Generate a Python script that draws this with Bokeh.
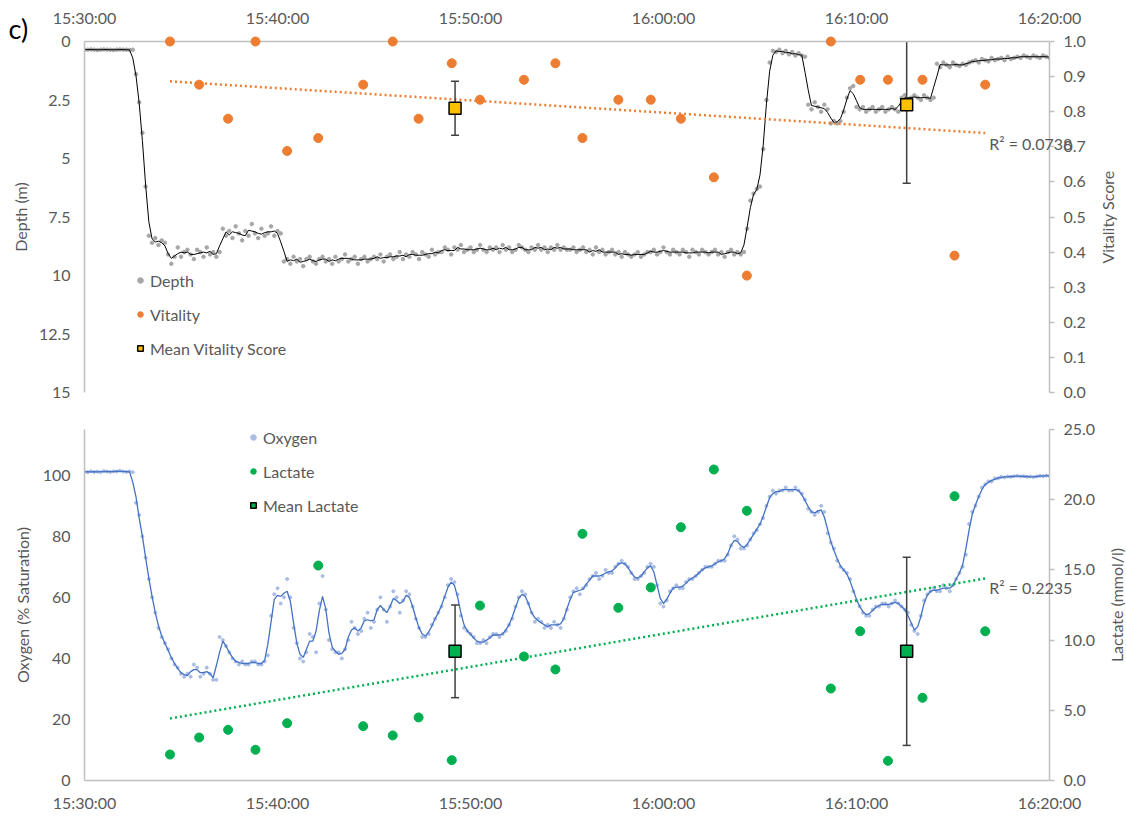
import numpy as np
import pandas as pd
from bokeh.core.properties import value
from bokeh.embed import file_html
from bokeh.layouts import column
from bokeh.models import (FixedTicker, Legend, LegendItem, LinearAxis,
                          NumeralTickFormatter, Range1d)
from bokeh.plotting import figure
from bokeh.resources import INLINE

# ---- time axis: minutes after 15:30:00 ----
time_ticks = [0, 10, 20, 30, 40, 50]
time_labels = ["15:30:00", "15:40:00", "15:50:00", "16:00:00", "16:10:00", "16:20:00"]
logger_step_s = 10  # data logger sampling interval

# logger depth (m), one reading every 10 s from 15:30:00
depth_m = [
    0.35, 0.35, 0.34, 0.35, 0.36, 0.35, 0.34, 0.35, 0.35, 0.36, 0.35, 0.34, 0.35, 0.35, 0.36, 0.35,
    1.4, 2.6, 3.9, 6.2, 8.3,
    8.6, 8.4, 8.7, 8.5, 8.6,
    9.1, 9.5, 9.2,
    8.8, 9.2, 9.0, 8.9, 9.1, 9.3, 8.9, 9.0, 9.2, 8.8, 9.1, 9.0, 9.2, 9.0,
    8.0, 8.3, 8.1, 8.4, 7.9, 8.2, 8.5, 8.1, 8.3, 7.8, 8.2, 8.4, 8.0, 8.3, 8.2, 7.9, 8.3, 8.1,
    8.2,
    9.4, 9.3, 9.5, 9.2, 9.4, 9.3, 9.6, 9.3, 9.2, 9.4, 9.5, 9.3, 9.2, 9.4, 9.3, 9.5, 9.2, 9.4,
    9.3, 9.1, 9.4, 9.3, 9.2, 9.5, 9.3, 9.2, 9.4, 9.3, 9.2,
    9.3, 9.1, 9.4, 9.2, 9.1, 9.3, 9.2, 9.0, 9.3, 9.1, 9.2, 9.0, 9.1, 9.3, 9.0, 9.1, 9.2, 8.9,
    9.1, 9.0,
    9.0, 8.8, 8.9, 9.1, 8.8, 8.9, 8.7, 9.0, 8.9, 8.8, 9.0, 8.9, 8.7, 8.9, 9.0, 8.8, 8.9, 8.8,
    9.0, 8.7, 8.9, 8.8, 9.0, 8.9, 8.7, 8.8, 8.9, 9.0, 8.8, 8.9, 8.7, 8.9, 8.8, 9.0, 8.8, 8.9,
    8.7, 8.9, 8.8, 8.9,
    8.9, 8.8, 9.0, 8.9, 8.8, 9.0, 8.9, 9.1, 8.8, 9.0, 8.9, 9.1, 9.0, 8.9, 9.1, 9.0, 9.2, 9.0,
    9.1, 9.2, 9.1, 9.0, 9.2, 9.1, 9.0,
    9.0, 8.9, 9.1, 9.0, 8.8, 9.0, 9.1, 8.9, 9.0, 9.1, 8.9, 9.0, 9.2, 8.9, 9.0, 9.1, 8.9, 9.0,
    9.1, 9.0, 8.9, 9.1, 9.0, 9.2, 9.0, 8.9, 9.1, 9.0, 9.1,
    9.0, 8.0, 6.8, 6.5, 6.3, 6.2, 4.6, 2.5, 0.9,
    0.4, 0.45, 0.35, 0.5, 0.4, 0.55, 0.45, 0.6, 0.5, 0.6, 0.65,
    2.7, 2.9, 2.6, 2.8, 3.0, 2.7, 2.9,
    3.5, 3.4, 3.5, 3.4,
    3.0, 2.4, 2.0, 1.9, 2.8,
    2.9, 2.8, 3.0, 2.9, 2.8, 3.0, 2.9, 2.8, 3.0, 2.9, 2.8, 2.9, 3.0,
    2.4, 2.3, 2.5, 2.4, 2.3, 2.4, 2.5, 2.3, 2.4, 2.5, 2.4,
    0.95, 1.1, 0.9, 1.0, 1.1, 0.9, 1.0, 1.05, 0.95, 1.0, 0.9,
    0.85, 0.8, 0.9, 0.75, 0.8, 0.85, 0.7, 0.8, 0.75, 0.7, 0.8, 0.65, 0.75, 0.7, 0.65,
    0.7, 0.6, 0.65, 0.7, 0.6, 0.65, 0.7, 0.6, 0.65, 0.7,
]

# logger oxygen (% saturation), same 10 s clock
oxygen_pct = [
    101.2, 101.0, 101.3, 101.1, 101.2, 101.0, 101.4, 101.2, 101.1, 101.3, 101.2, 101.5, 101.2, 101.1, 101.3, 101.0,
    91, 87, 80, 73, 66, 60, 55, 50, 47, 45, 43, 40, 38, 37, 35,
    34, 35, 34, 38, 37, 34, 35, 37, 35, 33, 33, 47, 46, 44, 42,
    40, 39, 38, 39, 38, 38, 39, 39, 38, 38, 39, 41, 54, 61, 63,
    58, 60, 66, 60, 50, 45, 40, 39, 42, 48, 47, 42, 58, 67, 56,
    46, 43, 42, 42, 40, 43, 46, 52, 50, 48, 49, 53, 55, 50, 52,
    56, 60, 56, 52, 57, 62, 60, 55, 59, 62, 61, 57, 53, 50, 47,
    47, 48, 51, 53, 55, 57, 60, 64, 66, 65, 61, 54, 50, 49, 48,
    47, 45, 45, 46, 45, 47, 48, 48, 47, 48, 49, 51, 53, 57, 60,
    62, 61, 58, 55, 52, 53, 52, 50, 51, 50, 52, 51, 50, 53, 56,
    60, 62, 63, 61, 63, 64, 66, 67, 68, 66, 67, 69, 68, 68, 70,
    71, 72, 71, 70, 68, 66, 66, 67, 68, 70, 71, 70, 64, 58, 57,
    59, 62, 63, 64, 63, 63, 65, 66, 66, 67, 68, 69, 70, 70, 70,
    71, 72, 72, 72, 74, 77, 80, 79, 76, 76, 77, 79, 81, 82, 84,
    86, 90, 93, 95, 94, 95, 95, 96, 95, 95, 96, 95, 94, 92, 89,
    88, 87, 88, 90, 88, 81, 78, 76, 72, 70, 69, 68, 66, 62, 59,
    57, 55, 54, 54, 56, 57, 57, 58, 58, 57, 58, 59, 58, 57, 56,
    55, 51, 49, 48, 54, 59, 61, 62, 63, 62, 62, 64, 63, 62, 64,
    66, 68, 70, 74, 84, 88, 90, 93, 96, 97, 98, 98, 99, 99, 99.5,
    99.3, 99.6, 99.5, 99.7, 99.8, 99.6, 99.7, 99.5, 99.6, 99.4, 99.6, 99.8, 99.7, 99.9, 99.8,
]

# individual samples (minutes after 15:30)
sample_min = [4.43, 5.94, 7.44, 8.86, 10.50, 12.11, 14.44, 15.97, 17.31, 19.03,
              20.49, 22.77, 24.40, 25.80, 27.66, 29.34, 30.90, 32.61, 34.32,
              38.67, 40.19, 41.63, 43.42, 45.08, 46.67]
vitality = [1.0, 0.877, 0.78, 1.0, 0.688, 0.725, 0.877, 1.0, 0.78, 0.938,
            0.834, 0.891, 0.938, 0.725, 0.834, 0.834, 0.78, 0.613, 0.333,
            1.0, 0.891, 0.891, 0.891, 0.39, 0.877]
lactate = [1.85, 3.06, 3.61, 2.19, 4.08, 15.31, 3.87, 3.21, 4.49, 1.45,
           12.46, 8.83, 7.91, 17.57, 12.30, 13.75, 18.04, 22.15, 19.21,
           6.55, 10.63, 1.40, 5.89, 20.25, 10.63]

# group means with error bars
group_min = [19.2, 42.6]
vitality_mean = [0.81, 0.82]
vitality_err = [0.077, 0.224]
lactate_mean = [9.2, 9.2]
lactate_err = [3.3, 6.7]

r2_vitality = "R² = 0.0738"
r2_lactate = "R² = 0.2235"

depth_ticks = [0, 2.5, 5, 7.5, 10, 12.5, 15]
vitality_ticks = [0.0, 0.1, 0.2, 0.3, 0.4, 0.5, 0.6, 0.7, 0.8, 0.9, 1.0]
oxygen_ticks = [0, 20, 40, 60, 80, 100]
lactate_ticks = [0, 5, 10, 15, 20, 25]

FONT = "Lato"
TXT = "#595959"
AXIS = "#BFBFBF"
ORANGE = "#ED7D31"
GOLD = "#FFC000"
GREEN = "#00B050"
BAR = "#404040"


def base_fig(height, b_top, b_bottom, x_loc, y_range):
    p = figure(width=1126, height=height, x_range=Range1d(0, 50), y_range=y_range,
               x_axis_location=x_loc, output_backend="svg", toolbar_location=None,
               min_border_left=84, min_border_right=77,
               min_border_top=b_top, min_border_bottom=b_bottom)
    p.grid.visible = False
    p.outline_line_color = None
    p.background_fill_color = "white"
    p.border_fill_color = "white"
    return p


def style_axis(ax, tick_out=0, standoff=14, title_standoff=6):
    ax.axis_line_color = AXIS
    ax.axis_line_width = 1.5
    ax.major_tick_line_color = AXIS
    ax.major_tick_line_width = 1.5
    ax.major_tick_out = tick_out
    ax.major_tick_in = 0
    ax.minor_tick_line_color = None
    ax.major_label_standoff = standoff
    ax.major_label_text_font = FONT
    ax.major_label_text_font_size = "16px"
    ax.major_label_text_color = TXT
    ax.axis_label_text_font = FONT
    ax.axis_label_text_font_size = "16px"
    ax.axis_label_text_color = TXT
    ax.axis_label_text_font_style = "normal"
    ax.axis_label_standoff = title_standoff


def time_axis(ax, standoff):
    ax.ticker = FixedTicker(ticks=time_ticks)
    ax.major_label_overrides = dict(zip(time_ticks, time_labels))
    style_axis(ax, standoff=standoff)


def legend_for(p, items, x, y):
    leg = Legend(items=items, location=(x, y), background_fill_alpha=0,
                 border_line_color=None, padding=0, margin=0, spacing=14,
                 glyph_width=14, glyph_height=20, label_height=20, label_standoff=3,
                 label_text_font=FONT, label_text_font_size="16px", label_text_color=TXT)
    p.add_layout(leg)


def free_text(p, x, y, text, size="16px", color=TXT, **kw):
    # text glyph on the overlay level, so it may sit outside the plot frame
    p.text(x=[x], y=[y], text=[text], level="overlay", text_font=value(FONT),
           text_font_size=size, text_color=color, **kw)


t_log = np.arange(len(depth_m)) * logger_step_s / 60.0
gm = np.array(group_min)
t_fit = np.array([min(sample_min), max(sample_min)])

# ---------------- depth / vitality ----------------
top = base_fig(410, 41, 18, "above", Range1d(15, 0))
top.extra_y_ranges = {"vit": Range1d(0, 1)}

depth_avg = pd.Series(depth_m).rolling(3, center=True, min_periods=1).mean()
r_depth = top.scatter(t_log, depth_m, size=3.5, color="#A6A6A6")
top.line(t_log, depth_avg, color="black", line_width=1)

vk, vb = np.polyfit(sample_min, vitality, 1)
top.line(t_fit, vk * t_fit + vb, y_range_name="vit", color=ORANGE,
         line_width=2.5, line_dash="2 3")

vm = np.array(vitality_mean)
ve = np.array(vitality_err)
top.segment(gm, vm - ve, gm, vm + ve, y_range_name="vit", color=BAR, line_width=1.5)
top.scatter(np.r_[gm, gm], np.r_[vm - ve, vm + ve], marker="dash", size=8,
            y_range_name="vit", line_color=BAR, line_width=1.5)

r_vit = top.scatter(sample_min, vitality, y_range_name="vit", size=9,
                    color=ORANGE, level="overlay")
r_vmean = top.scatter(gm, vm, y_range_name="vit", marker="square", size=12,
                      fill_color=GOLD, line_color="black", line_width=1.5)

time_axis(top.xaxis[0], 15)
ly = top.yaxis[0]
ly.ticker = FixedTicker(ticks=depth_ticks)
ly.formatter = NumeralTickFormatter(format="0.[0]")
ly.axis_label = "Depth (m)"
style_axis(ly, standoff=14, title_standoff=6)

ry = LinearAxis(y_range_name="vit", ticker=FixedTicker(ticks=vitality_ticks),
                formatter=NumeralTickFormatter(format="0.0"))
style_axis(ry, tick_out=5, standoff=9)
top.add_layout(ry, "right")
# right-hand axis title, reading upwards
free_text(top, 50, 0.5, "Vitality Score", y_range_name="vit", x_offset=58,
          angle=np.pi / 2, text_align="center", text_baseline="middle")

legend_for(top, [LegendItem(label="Depth", renderers=[r_depth]),
                 LegendItem(label="Vitality", renderers=[r_vit]),
                 LegendItem(label="Mean Vitality Score", renderers=[r_vmean])], 49, 34)

free_text(top, t_fit[1], vk * t_fit[1] + vb, r2_vitality, y_range_name="vit",
          x_offset=4, y_offset=10, text_baseline="middle")
free_text(top, 0, 0, "c)", size="27px", color="black", x_offset=-76, y_offset=-13,
          text_baseline="middle")

# ---------------- oxygen / lactate ----------------
bot = base_fig(409, 19, 39, "below", Range1d(0, 115))
bot.extra_y_ranges = {"lac": Range1d(0, 25)}

oxy_avg = pd.Series(oxygen_pct).rolling(3, center=True, min_periods=1).mean()
r_oxy = bot.scatter(t_log, oxygen_pct, size=3, color="#A9BCE4")
bot.line(t_log, oxy_avg, color="#4472C4", line_width=1.3)

lk, lb = np.polyfit(sample_min, lactate, 1)
bot.line(t_fit, lk * t_fit + lb, y_range_name="lac", color=GREEN,
         line_width=2.5, line_dash="2 3")

lm = np.array(lactate_mean)
le = np.array(lactate_err)
bot.segment(gm, lm - le, gm, lm + le, y_range_name="lac", color=BAR, line_width=1.5)
bot.scatter(np.r_[gm, gm], np.r_[lm - le, lm + le], marker="dash", size=8,
            y_range_name="lac", line_color=BAR, line_width=1.5)

r_lac = bot.scatter(sample_min, lactate, y_range_name="lac", size=9, color=GREEN)
r_lmean = bot.scatter(gm, lm, y_range_name="lac", marker="square", size=12,
                      fill_color=GREEN, line_color="black", line_width=1.5)

time_axis(bot.xaxis[0], 12)
oy = bot.yaxis[0]
oy.ticker = FixedTicker(ticks=oxygen_ticks)
oy.formatter = NumeralTickFormatter(format="0")
oy.axis_label = "Oxygen (% Saturation)"
style_axis(oy, standoff=14, title_standoff=8)

lay = LinearAxis(y_range_name="lac", ticker=FixedTicker(ticks=lactate_ticks),
                 formatter=NumeralTickFormatter(format="0.0"))
style_axis(lay, tick_out=5, standoff=9)
bot.add_layout(lay, "right")
free_text(bot, 50, 12.5, "Lactate (mmol/l)", y_range_name="lac", x_offset=67,
          angle=np.pi / 2, text_align="center", text_baseline="middle")

legend_for(bot, [LegendItem(label="Oxygen", renderers=[r_oxy]),
                 LegendItem(label="Lactate", renderers=[r_lac]),
                 LegendItem(label="Mean Lactate", renderers=[r_lmean])], 162, 265)

free_text(bot, t_fit[1], lk * t_fit[1] + lb, r2_lactate, y_range_name="lac",
          x_offset=4, y_offset=9, text_baseline="middle")

layout = column(top, bot, spacing=0)
open("out.html", "w").write(file_html(layout, INLINE))
